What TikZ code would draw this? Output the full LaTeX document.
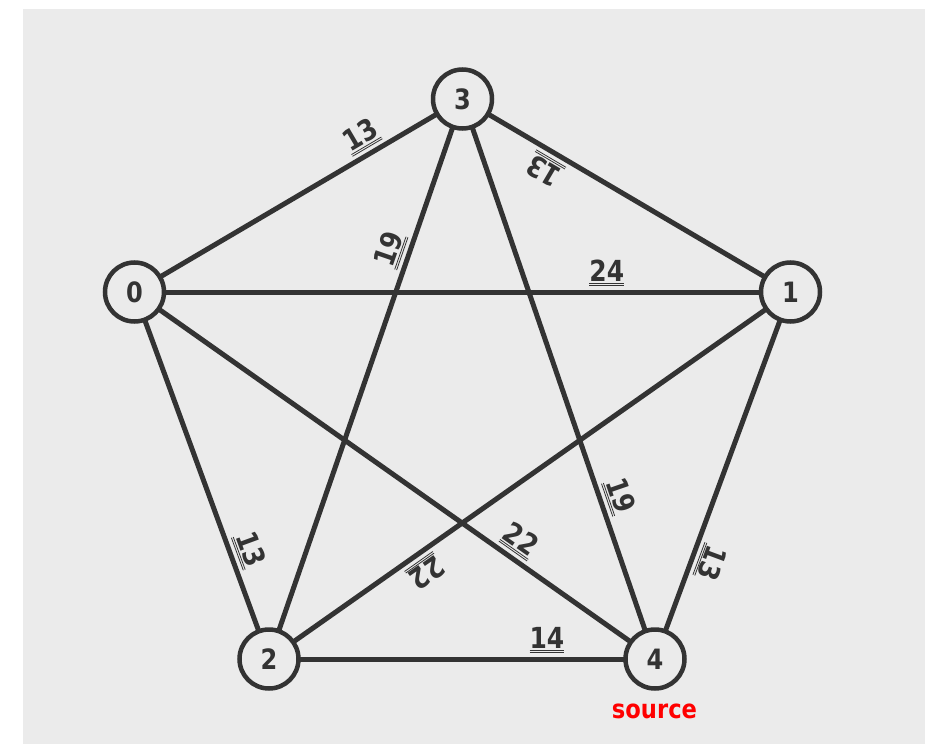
\documentclass[tikz,border=0pt]{standalone}
\usepackage{fontspec}
\setmainfont{DejaVu Sans}[FakeStretch=0.86]
\newfontfamily\srcfont{DejaVu Sans}[FakeStretch=0.87]
\usetikzlibrary{backgrounds}
\definecolor{bg}{HTML}{EBEBEB}
\definecolor{ink}{HTML}{333333}
\newcommand{\dul}[1]{\vtop{\hbox{#1}\kern1.3pt\hrule height0.8pt\kern1.2pt\hrule height0.8pt}}
\begin{document}
\begin{tikzpicture}[x=1pt,y=-1pt,
  vtx/.style={circle,draw=ink,line width=4.5pt,fill=bg,minimum size=59pt,inner sep=0pt,
    font=\bfseries\fontsize{28}{30}\selectfont,text=ink},
  edge/.style={draw=ink,line width=5pt},
  wt/.style={sloped,allow upside down,pos=0.72,above=6pt,inner sep=0pt,outer sep=0pt,
    font=\bfseries\fontsize{29}{31}\selectfont,text=ink}]
\useasboundingbox (0,0) rectangle (935,744);
\node[vtx] (n3) at (462.5,99) {3};
\node[vtx] (n0) at (134.5,292) {0};
\node[vtx] (n1) at (790.5,292) {1};
\node[vtx] (n2) at (269,659) {2};
\node[vtx] (n4) at (655,659) {4};
\node[text=red,font=\srcfont\bfseries\fontsize{26}{28}\selectfont,anchor=base,inner sep=0pt] (src) at (654.5,718) {source};
\begin{scope}[on background layer]
\fill[bg] (23,9) rectangle (925,744);
\draw[edge] (n0.center) -- (n3.center) node[wt]{\dul{13}};
\draw[edge] (n1.center) -- (n3.center) node[wt]{\dul{13}};
\draw[edge] (n0.center) -- (n1.center) node[wt]{\dul{24}};
\draw[edge] (n2.center) -- (n3.center) node[wt]{\dul{19}};
\draw[edge] (n3.center) -- (n4.center) node[wt]{\dul{19}};
\draw[edge] (n1.center) -- (n4.center) node[wt]{\dul{13}};
\draw[edge] (n0.center) -- (n2.center) node[wt]{\dul{13}};
\draw[edge] (n0.center) -- (n4.center) node[wt]{\dul{22}};
\draw[edge] (n1.center) -- (n2.center) node[wt]{\dul{22}};
\draw[edge] (n2.center) -- (n4.center) node[wt]{\dul{14}};
\end{scope}
\end{tikzpicture}
\end{document}
